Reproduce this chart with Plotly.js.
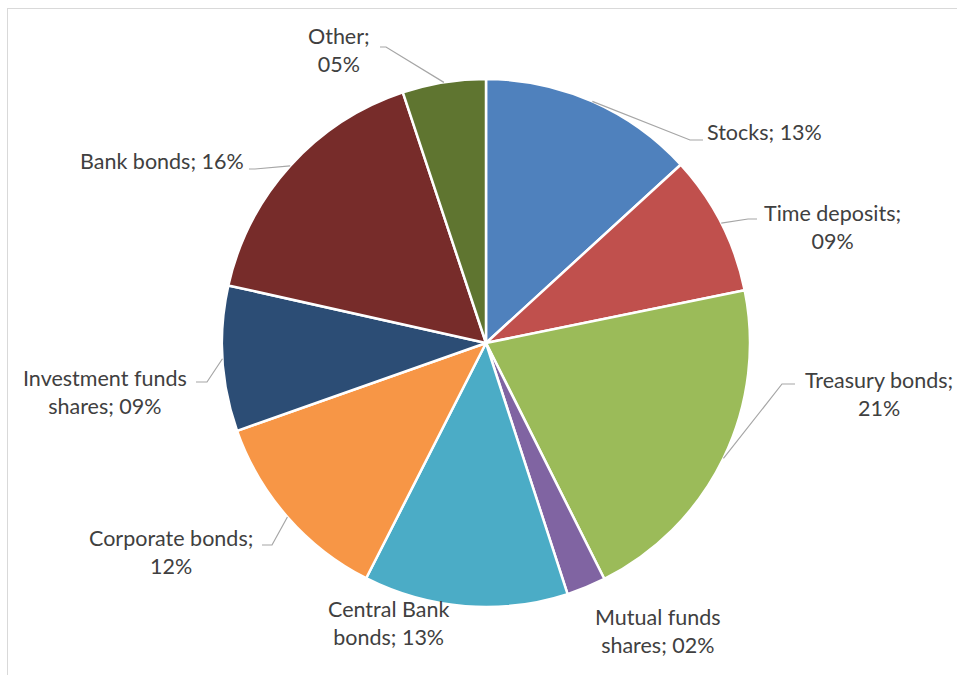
<!DOCTYPE html>
<html>
<head>
<meta charset="utf-8">
<script src="https://cdn.plot.ly/plotly-3.0.1.min.js"></script>
<style>
  html, body { margin:0; padding:0; background:#fff; }
  #wrap { position:relative; width:957px; height:675px; overflow:hidden; }
  #frame { position:absolute; left:7px; top:8px; width:960px; height:680px; border:1px solid #d9d9d9; box-sizing:border-box; pointer-events:none; }
  #chart { position:absolute; left:0; top:0; width:957px; height:675px; }
</style>
</head>
<body>
<div id="wrap">
  <div id="chart"></div>
  <div id="frame"></div>
</div>
<script>
// ---- data ----
const categories = ["Stocks", "Time deposits", "Treasury bonds", "Mutual funds shares",
                    "Central Bank bonds", "Corporate bonds", "Investment funds shares",
                    "Bank bonds", "Other"];
const shares = [13.2, 8.6, 20.8, 2.4, 12.5, 12.1, 8.9, 16.4, 5.1];

// ---- style ----
const colors = ["#4F81BD", "#C0504D", "#9BBB59", "#8064A2", "#4BACC6",
                "#F79646", "#2C4D75", "#772C2A", "#5F7530"];
// label line-break mode: 'none' | 'semi' (after ';') | 'word' (before last word of name)
const breakMode = ["none", "semi", "semi", "word", "word", "semi", "word", "none", "semi"];
// label centre (px) and leader elbow/end (px) — null = no leader
const labelPos = [[764,132],[832,227],[879,394],[658,631],[388,623],[171,552],[105,392],[162,161],[339,50]];
const leader = [
  [[690,140],[703,140]],
  [[748,219],[757,219]],
  [[782,384],[795,384]],
  null,
  null,
  [[272,545],[262,545]],
  [[207,382],[196,382]],
  [[255,169],[249,169]],
  [[386,47],[380,47]]
];

const W = 957, H = 675;
const cx = 486, cy = 343, R = 264;

function pad2(v){ const r = Math.round(v); return (r < 10 ? "0" : "") + r + "%"; }
function labelText(i){
  const name = categories[i], pct = pad2(shares[i]);
  if (breakMode[i] === "semi") return name + ";<br>" + pct;
  if (breakMode[i] === "word") {
    const k = name.lastIndexOf(" ");
    return name.slice(0,k) + "<br>" + name.slice(k+1) + "; " + pct;
  }
  return name + "; " + pct;
}
const px = x => x / W, py = y => 1 - y / H;

const total = shares.reduce((a,b)=>a+b,0);
let cum = 0;
const annotations = [], shapes = [];
shares.forEach((v,i) => {
  const mid = (cum + v/2) / total * 2 * Math.PI;
  cum += v;
  annotations.push({
    xref:"paper", yref:"paper", x: px(labelPos[i][0]), y: py(labelPos[i][1]),
    xanchor:"center", yanchor:"middle", showarrow:false, align:"center",
    text: labelText(i),
    font:{family:"Lato, 'Open Sans', sans-serif", size:21.5, color:"#404040"}
  });
  if (leader[i]) {
    const sx = cx + R * Math.sin(mid), sy = cy - R * Math.cos(mid);
    const [e, f] = leader[i];
    shapes.push({
      type:"path", xref:"paper", yref:"paper",
      path:`M ${px(sx)},${py(sy)} L ${px(e[0])},${py(e[1])} L ${px(f[0])},${py(f[1])}`,
      line:{color:"#A6A6A6", width:1.2}
    });
  }
});

const trace = {
  type:"pie",
  labels: categories,
  values: shares,
  sort:false,
  direction:"clockwise",
  rotation:0,
  textinfo:"none",
  hoverinfo:"label+percent",
  marker:{colors: colors, line:{color:"#ffffff", width:2.5}},
  domain:{x:[(cx-R)/W, (cx+R)/W], y:[1-(cy+R)/H, 1-(cy-R)/H]}
};

Plotly.newPlot("chart", [trace], {
  width: W, height: H,
  margin:{l:0, r:0, t:0, b:0},
  showlegend:false,
  paper_bgcolor:"#ffffff",
  annotations: annotations,
  shapes: shapes
}, {displayModeBar:false, staticPlot:true});
</script>
</body>
</html>
